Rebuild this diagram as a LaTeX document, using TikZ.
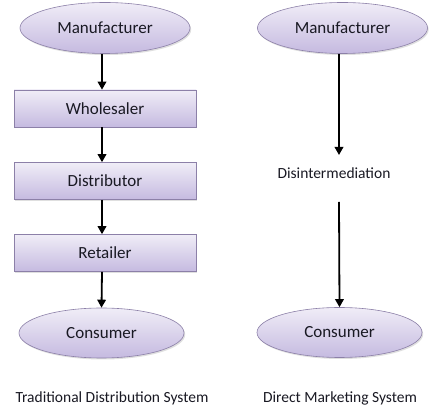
\documentclass[tikz,border=0pt]{standalone}
\usepackage{fontspec}
\setmainfont{Carlito}
\usetikzlibrary{arrows.meta,shadows,shapes.geometric}
\definecolor{topc}{RGB}{240,237,247}
\definecolor{botc}{RGB}{197,186,224}
\definecolor{edgec}{RGB}{140,128,168}
\definecolor{txt}{RGB}{25,25,35}
\begin{document}
\begin{tikzpicture}[x=1pt,y=-1pt,
  base/.style={draw=edgec, line width=0.6pt,
    top color=topc, bottom color=botc,
    drop shadow={opacity=0.25, shadow xshift=1.2pt, shadow yshift=-1.5pt},
    font=\fontsize{17}{20}\selectfont, text=txt},
  oval/.style={base, ellipse, minimum width=170pt, minimum height=51pt, inner sep=0pt},
  boxx/.style={base, rectangle, minimum width=182pt, minimum height=37pt, inner sep=0pt},
  lbl/.style={font=\fontsize{15.5}{18}\selectfont, text=txt, inner sep=0pt},
  arr/.style={-{Triangle[length=8pt,width=8.5pt]}, line width=1.8pt, black}
]
\useasboundingbox[fill=white] (0,0) rectangle (447,419);
% left column
\node[oval] (m1) at (105,28) {Manufacturer};
\node[boxx] (w) at (105,108.5) {Wholesaler};
\node[boxx] (d) at (105,181) {Distributor};
\node[boxx] (r) at (105,253) {Retailer};
\node[oval, minimum width=165pt, minimum height=50pt] (c1) at (101.5,333) {Consumer};
\node[lbl] (t1) at (112,398) {Traditional Distribution System};
\draw[arr] ([xshift=-3pt]m1.south) -- ([xshift=-3pt]w.north);
\draw[arr] ([xshift=-3pt]w.south) -- ([xshift=-3pt]d.north);
\draw[arr] ([xshift=-3pt]d.south) -- ([xshift=-3pt]r.north);
\draw[arr] ([xshift=-3pt]r.south) -- (c1.north);
% right column
\node[oval] (m2) at (342.5,28) {Manufacturer};
\node[lbl] (dis) at (334,173) {Disintermediation};
\node[oval, minimum width=165pt, minimum height=50pt] (c2) at (339.5,332.5) {Consumer};
\node[lbl] (t2) at (340,398) {Direct Marketing System};
\coordinate (a1) at (339,155);
\coordinate (a2) at (339,202);
\draw[arr] (m2.south -| a1) -- (a1);
\draw[arr] (a2) -- (c2.north);
\end{tikzpicture}
\end{document}
